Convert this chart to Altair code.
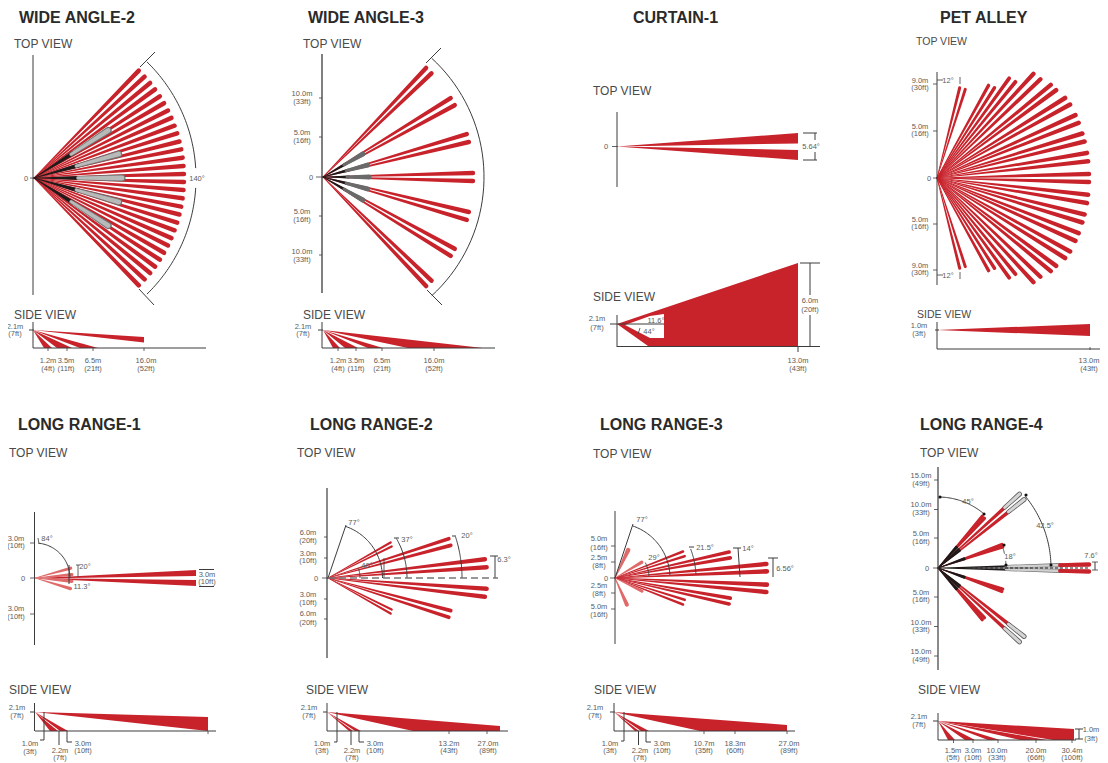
import math
import numpy as np
import pandas as pd
import altair as alt

RED = "#c8222b"
PALE = "#e06a6a"
DARK = "#1f1a1a"
INK = "#4a4a4a"
SOFT = "#5c5c5c"

# ---------- values ----------
titles = [("WIDE ANGLE-2", 19, 17), ("WIDE ANGLE-3", 308, 17), ("CURTAIN-1", 633, 17), ("PET ALLEY", 940, 17),
          ("LONG RANGE-1", 18, 424), ("LONG RANGE-2", 310, 424), ("LONG RANGE-3", 600, 424), ("LONG RANGE-4", 920, 424)]
view_labels = [("TOP VIEW", 14, 43, 12), ("SIDE VIEW", 14, 314, 12), ("TOP VIEW", 303, 43, 12), ("SIDE VIEW", 303, 314, 12),
               ("TOP VIEW", 593, 90, 12), ("SIDE VIEW", 593, 296, 12), ("TOP VIEW", 916, 41, 10.5), ("SIDE VIEW", 917, 314, 10.5),
               ("TOP VIEW", 9, 452, 12), ("SIDE VIEW", 9, 689, 12), ("TOP VIEW", 297, 452, 12), ("SIDE VIEW", 306, 689, 12),
               ("TOP VIEW", 593, 453, 12), ("SIDE VIEW", 594, 689, 12), ("TOP VIEW", 920, 452, 12), ("SIDE VIEW", 918, 689, 12)]
small_labels = [
    ("0", 26, 178), ("140°", 197, 178), ("2.1m", 15, 326), ("(7ft)", 15, 333), ("1.2m", 48, 360), ("(4ft)", 48, 368),
    ("3.5m", 66, 360), ("(11ft)", 66, 368), ("6.5m", 93, 360), ("(21ft)", 93, 368), ("16.0m", 146, 360), ("(52ft)", 146, 368),
    ("0", 311, 177), ("10.0m", 302, 93), ("(33ft)", 302, 101), ("5.0m", 302, 132), ("(16ft)", 302, 140),
    ("5.0m", 302, 211), ("(16ft)", 302, 219), ("10.0m", 302, 251), ("(33ft)", 302, 259),
    ("2.1m", 303, 326), ("(7ft)", 303, 333), ("1.2m", 338, 360), ("(4ft)", 338, 368), ("3.5m", 356, 360), ("(11ft)", 356, 368),
    ("6.5m", 382, 360), ("(21ft)", 382, 368), ("16.0m", 434, 360), ("(52ft)", 434, 368),
    ("0", 606, 146), ("5.64°", 811, 146), ("2.1m", 597, 318), ("(7ft)", 597, 327), ("11.6°", 656, 320), ("44°", 649, 331),
    ("6.0m", 810, 300), ("(20ft)", 810, 309), ("13.0m", 798, 360), ("(43ft)", 798, 368),
    ("0", 929, 178), ("9.0m", 920, 80), ("(30ft)", 920, 87), ("5.0m", 920, 126), ("(16ft)", 920, 133),
    ("5.0m", 920, 219), ("(16ft)", 920, 226), ("9.0m", 920, 265), ("(30ft)", 920, 272), ("12°", 948, 80), ("12°", 948, 275),
    ("1.0m", 919, 325), ("(3ft)", 919, 333), ("13.0m", 1089, 360), ("(43ft)", 1089, 368),
    ("0", 23, 578), ("3.0m", 16, 538), ("(10ft)", 16, 545), ("3.0m", 16, 608), ("(10ft)", 16, 616), ("84°", 47, 538),
    ("20°", 85, 566), ("11.3°", 82, 586), ("3.0m", 207, 574), ("(10ft)", 207, 581),
    ("2.1m", 17, 707), ("(7ft)", 17, 715), ("1.0m", 30, 743), ("(3ft)", 30, 751), ("2.2m", 60, 750), ("(7ft)", 60, 757),
    ("3.0m", 83, 743), ("(10ft)", 83, 750),
    ("0", 316, 578), ("6.0m", 308, 532), ("(20ft)", 308, 540), ("3.0m", 308, 553), ("(10ft)", 308, 560),
    ("3.0m", 308, 594), ("(10ft)", 308, 602), ("6.0m", 308, 613), ("(20ft)", 308, 622),
    ("77°", 354, 522), ("37°", 407, 539), ("20°", 467, 535), ("6.3°", 504, 559), ("40°", 367, 565),
    ("2.1m", 309, 707), ("(7ft)", 309, 715), ("1.0m", 322, 743), ("(3ft)", 322, 750), ("2.2m", 352, 750), ("(7ft)", 352, 757),
    ("3.0m", 375, 743), ("(10ft)", 375, 750), ("13.2m", 449, 743), ("(43ft)", 449, 750), ("27.0m", 488, 743), ("(89ft)", 488, 750),
    ("0", 606, 578), ("5.0m", 599, 538), ("(16ft)", 599, 547), ("2.5m", 599, 557), ("(8ft)", 599, 565),
    ("2.5m", 599, 585), ("(8ft)", 599, 593), ("5.0m", 599, 606), ("(16ft)", 599, 614),
    ("77°", 642, 519), ("29°", 654, 557), ("21.5°", 705, 547), ("14°", 748, 548), ("6.56°", 785, 568),
    ("2.1m", 595, 707), ("(7ft)", 595, 715), ("1.0m", 610, 743), ("(3ft)", 610, 750), ("2.2m", 640, 750), ("(7ft)", 640, 757),
    ("3.0m", 662, 743), ("(10ft)", 662, 750), ("10.7m", 704, 743), ("(35ft)", 704, 750), ("18.3m", 735, 743), ("(60ft)", 735, 750),
    ("27.0m", 789, 743), ("(89ft)", 789, 750),
    ("0", 927, 568), ("15.0m", 921, 475), ("(49ft)", 921, 483), ("10.0m", 921, 504), ("(33ft)", 921, 512),
    ("5.0m", 921, 533), ("(16ft)", 921, 541), ("5.0m", 921, 592), ("(16ft)", 921, 599), ("10.0m", 921, 622), ("(33ft)", 921, 629),
    ("15.0m", 921, 651), ("(49ft)", 921, 659), ("45°", 968, 501), ("42.5°", 1045, 525), ("18°", 1010, 556), ("7.6°", 1091, 555),
    ("2.1m", 919, 716), ("(7ft)", 919, 724), ("1.5m", 953, 750), ("(5ft)", 953, 757), ("3.0m", 973, 750), ("(10ft)", 973, 757),
    ("10.0m", 997, 750), ("(33ft)", 997, 757), ("20.0m", 1036, 750), ("(66ft)", 1036, 757), ("30.4m", 1072, 750), ("(100ft)", 1072, 757),
    ("1.0m", 1091, 729), ("(3ft)", 1091, 738),
]

wa2_apex = (34, 178)
wa2_angles = [1.5, 4.6, 7.8, 11, 14.1, 17.3, 20.4, 23.6, 26.7, 29.9, 33, 36.2, 39.3, 42.5, 45.7]
wa2_grey_angles = [0, 15.8, 32.6]
wa3_apex = (323, 177)
wa3_angles = [1.5, 13.5, 16.6, 28.6, 31.7, 43.7, 46.6]
wa3_grey_angles = [0, 15, 30]
pet_apex = (937, 178)
pet_angles = [1.5, 6.3, 9.5, 13.9, 17, 21.3, 24.4, 28.9, 32, 36.4, 39.3, 43.7, 47.2, 50.8, 54.1, 57.5, 60.9, 72.3, 75.9]
pet_radii = [152, 152, 152, 152, 152, 152, 152, 152, 151, 148, 147, 143, 142, 124, 123, 107, 106, 93, 93]
lr1_apex = (35, 578)
lr1_pale = [15.3, 5.2, -5.2, -16.7]
lr2_apex = (328, 578)
lr2_angles = [3.9, 6.8, 14.9, 18, 26.3, 29.6]
lr2_radii = [159, 158, 127, 127, 71, 72]
lr3_apex = (615, 578)
lr3_angles = [2.5, 5.3, 9.9, 12.8, 17.4, 21.3]
lr3_radii = [152, 152, 117, 117, 73, 73]
lr3_pale = [(64.8, 31), (-66, 29), (30.4, 31), (-26, 30)]
lr4_apex = (938, 568)
lr4_long = [38.5, 42.2]
lr4_short = [47, 49.4]
lr4_mid = [18, 20.2]

# side-view wedges that reach the floor: apex, floor y, [(near x, far x)...]
side_floor = [
    ((33, 330), 348, [(44, 52), (57, 72), (80, 98)]),
    ((323, 330), 348, [(333, 340), (345, 358), (368, 383), (408, 483)]),
    ((35, 712), 731, [(50, 58), (60, 68)]),
    ((327, 712), 731, [(349, 353), (355, 361)]),
    ((614, 712), 731, [(635, 639), (641, 649)]),
    ((938, 721), 740, [(948, 955), (965, 975), (988, 1000), (1020, 1047)]),
]
# side-view wedges with a flat far end: apex, far x, upper y, lower y
side_flat = [((33, 330), 144, 337, 342.5), ((937, 330), 1090, 324, 336), ((35, 712), 208, 717, 731),
             ((617, 146.5), 798, 133, 143.5), ((617, 146.5), 798, 150, 160)]
# wedges cut by the floor: apex, x where the lower edge lands, far x, far top y, floor y
side_cut = [((327, 712), 413, 500, 726, 731), ((614, 712), 700, 787, 725, 731), ((938, 721), 1053, 1074, 729, 740)]

# plain line work: (x1, y1, x2, y2, width)
line_work = [
    (33, 55, 33, 295, 1), (30, 178, 34, 178, 0.8), (140, 67, 155, 52, 1), (139, 289, 154, 305, 1),
    (33, 322, 33, 348, 1), (33, 348, 206, 348, 1), (29, 330, 34, 330, 1), (48, 348, 48, 351, .8), (67, 348, 67, 351, .8), (93, 348, 93, 351, .8), (144, 348, 144, 351, .8),
    (322, 54, 322, 293, 1.3), (319, 98, 322, 98, .8), (319, 137, 322, 137, .8), (319, 216, 322, 216, .8), (319, 255, 322, 255, .8), (316, 177, 323, 177, .8),
    (426, 63, 441, 48, 1), (427, 290, 442, 305, 1), (322, 322, 322, 348, 1), (322, 348, 495, 348, 1), (318, 330, 323, 330, 1),
    (338, 348, 338, 351, .8), (356, 348, 356, 351, .8), (382, 348, 382, 351, .8), (434, 348, 434, 351, .8),
    (617, 112, 617, 187, 1), (612, 146.5, 618, 146.5, .8), (803, 133, 817, 133, 1), (815, 133, 815, 140, 1), (803, 160, 817, 160, 1), (815, 152, 815, 160, 1),
    (617, 315, 617, 347, 1), (617, 346.5, 820, 346.5, 1), (610, 324, 664, 324, 1), (640, 328, 638, 334, .8), (800, 263, 820, 263, 1),
    (810, 263, 810, 295, 1), (810, 315, 810, 346, 1), (798, 346, 798, 352, 1),
    (937, 72, 937, 285, 1), (933, 84, 937, 84, .8), (933, 131, 937, 131, .8), (933, 224, 937, 224, .8), (933, 270, 937, 270, .8), (933, 178, 937, 178, .8),
    (937, 80, 943, 80, .8), (960, 77, 960, 84, .8), (937, 275, 943, 275, .8), (960, 272, 960, 279, .8),
    (937, 322, 937, 349, 1), (937, 349, 1100, 349, 1), (1090, 347, 1090, 350, .8), (935, 330, 939, 330, 1),
    (34.5, 512, 34.5, 645, 1), (30, 543, 34.5, 543, .8), (30, 614, 34.5, 614, .8), (30, 578, 35, 578, .8), (38, 538, 39, 544, .8),
    (69, 565, 69, 584, 1), (76, 565, 80, 565, .8), (78, 565, 78, 577, .8), (199, 569.5, 214, 569.5, 1), (199, 586.5, 214, 586.5, 1),
    (34.5, 703, 34.5, 731, 1), (35, 731, 216, 731, 1), (30, 712, 35, 712, 1), (44, 712, 44, 740, 1), (44, 740, 40, 740, 1), (59, 731, 59, 745, 1),
    (67, 731, 67, 742, 1), (67, 742, 72, 742, 1), (208, 731, 208, 734, .8),
    (327, 488, 327, 658, 1.2), (324, 537, 327, 537, .8), (324, 558, 327, 558, .8), (324, 599, 327, 599, .8), (324, 619, 327, 619, .8), (322, 578, 328, 578, .8),
    (328, 578, 346, 525, 1), (384, 558, 384, 578, .8), (394, 538, 399, 538, 1), (452, 536, 456, 536, 1),
    (495, 556, 495, 578, 1), (490, 556, 498, 556, 1),
    (327, 703, 327, 731, 1), (327, 731, 508, 731, 1), (323, 712, 327, 712, 1), (337, 712, 337, 742, 1), (337, 742, 334, 742, 1), (351, 731, 351, 745, 1),
    (359, 731, 359, 742, 1), (359, 742, 364, 742, 1), (449, 731, 449, 734, .8), (487, 731, 487, 734, .8),
    (615, 511, 615, 644, 1), (611, 546, 615, 546, .8), (611, 562, 615, 562, .8), (611, 593, 615, 593, .8), (611, 609, 615, 609, .8), (610, 578, 615, 578, .8),
    (615, 578, 633, 524, 1), (689, 547, 694, 547, 1), (733, 548, 741, 548, 1), (738, 548, 740, 577, 1), (773, 558, 773, 577, 1), (768, 558, 778, 558, 1),
    (614, 703, 614, 731, 1), (614, 731, 795, 731, 1), (610, 712, 615, 712, 1), (624, 712, 624, 741, 1), (624, 741, 621, 741, 1), (638.5, 731, 638.5, 745, 1),
    (646, 731, 646, 742, 1), (646, 742, 651, 742, 1), (704, 731, 704, 734, .8), (735, 731, 735, 734, .8), (787, 731, 787, 734, .8),
    (938, 467, 938, 670, 1.2), (934, 480, 938, 480, .8), (934, 509.5, 938, 509.5, .8), (934, 538, 938, 538, .8), (934, 597, 938, 597, .8),
    (934, 626.5, 938, 626.5, .8), (934, 656, 938, 656, .8), (933, 568, 938, 568, .8), (1095, 562, 1095, 570, 1), (1092, 562, 1098, 562, .8), (1092, 570, 1098, 570, .8),
    (938, 713, 938, 740, 1), (938, 740, 1076, 740, 1), (933, 721, 938, 721, 1), (953.5, 740, 953.5, 743, .8), (973, 740, 973, 743, .8), (998, 740, 998, 743, .8),
    (1036, 740, 1036, 743, .8), (1072, 740, 1072, 743, .8), (1079, 729, 1079, 739, 1), (1075, 729, 1083, 729, 1), (1075, 739, 1083, 739, 1),
]
# arcs around an apex: apex, radius, from angle, to angle
arc_work = [
    (wa2_apex, 162, 45.8, 3.5), (wa2_apex, 162, -3.5, -45.8), (wa3_apex, 161, 47.5, -47.5),
    (lr1_apex, 35, 84, 0), (lr2_apex, 54.5, 71, 0), (lr2_apex, 79, 30, 0), (lr2_apex, 134, 18, 0), (lr2_apex, 32, 17, 0),
    (lr3_apex, 55, 71, 3), (lr3_apex, 34, 27, 3), (lr3_apex, 81, 21, 3), (lr4_apex, 71, 88, 50), (lr4_apex, 113, 39.3, 1), (lr4_apex, 68, 17, 12), (lr4_apex, 68, 6, 1),
]
arrow_points = [(940, 497), (984, 514), (1026, 495), (1051, 565), (1004, 545), (1006, 565)]
dash_grey = [(328, 578, 498, 578)]
dash_dark = [(965, 568, 1089, 568)]

# ---------- assembling ----------
beams, areas, lines = [], [], []
gid = [0]

def new_id():
    gid[0] += 1
    return gid[0]

def beam(apex, ang, r0, r1, k, color):
    g = new_id()
    a = math.radians(ang)
    for i, r in enumerate((r0, r1)):
        beams.append(dict(g=g, i=i, x=apex[0] + r * math.cos(a), y=apex[1] - r * math.sin(a), s=0.7 + r * k * 0.85, c=color))

def area(points, color):
    g = new_id()
    for x, y, yb in points:
        areas.append(dict(g=g, x=x, y=y, yb=yb, c=color))

def seg(pts, w, color):
    g = new_id()
    for i, (x, y) in enumerate(pts):
        lines.append(dict(g=g, i=i, x=x, y=y, w=w, c=color))

# wide angle 2
for a in wa2_angles:
    beam(wa2_apex, a, 0, 150, .03, RED)
    beam(wa2_apex, -a, 0, 150, .03, RED)
for a in wa2_grey_angles:
    for s in {a, -a}:
        beam(wa2_apex, s, 0, 46, .09, DARK)
        beam(wa2_apex, s, 44, 88, .085, "#6f7371")
        beam(wa2_apex, s, 44, 88, .055, "#b7bab8")
# wide angle 3
for a in wa3_angles:
    beam(wa3_apex, a, 0, 150, .03, RED)
    beam(wa3_apex, -a, 0, 150, .03, RED)
for a in wa3_grey_angles:
    for s in {a, -a}:
        beam(wa3_apex, s, 0, 26, .1, DARK)
        beam(wa3_apex, s, 24, 46, .11, "#6a6a6a")
# pet alley
for a, r in zip(pet_angles, pet_radii):
    beam(pet_apex, a, 0, r, .03, RED)
    beam(pet_apex, -a, 0, r, .03, RED)
# long range 1
for a in lr1_pale:
    beam(lr1_apex, a, 0, 37, .08, PALE)
area([(35, 578, 578), (70, 576.5, 578), (196, 570, 576)], RED)
area([(35, 578, 578), (70, 578.6, 580), (196, 580, 586)], RED)
# long range 2 and 3
for a, r in zip(lr2_angles, lr2_radii):
    beam(lr2_apex, a, 0, r, .028, RED)
    beam(lr2_apex, -a, 0, r, .028, RED)
for a, r in zip(lr3_angles, lr3_radii):
    beam(lr3_apex, a, 0, r, .03, RED)
    beam(lr3_apex, -a, 0, r, .03, RED)
for a, r in lr3_pale:
    beam(lr3_apex, a, 0, r, .14 if abs(a) > 60 else .1, PALE)
# long range 4
for a in lr4_long:
    for s in (a, -a):
        beam(lr4_apex, s, 0, 92, .038, RED)
        beam(lr4_apex, s, 90, 110, .045, "#555555")
        beam(lr4_apex, s, 90, 110, .028, "#d5d5d5")
for a in lr4_short + lr4_mid:
    beam(lr4_apex, a, 0, 68, .045, RED)
    beam(lr4_apex, -a, 0, 68, .045, RED)
for a in lr4_long + lr4_short + lr4_mid:
    beam(lr4_apex, a, 0, 28, .06, DARK)
    beam(lr4_apex, -a, 0, 28, .06, DARK)
for s in (1.33, -1.33):
    beam(lr4_apex, s, 0, 70, .0265, DARK)
    beam(lr4_apex, s, 68, 124, .035, "#666666")
    beam(lr4_apex, s, 68, 124, .02, "#d0d0d0")
    beam(lr4_apex, s, 122, 151, .03, RED)

# side views
for apex, floor, spans in side_floor:
    for near, far in spans:
        top = apex[1] + (floor - apex[1]) * (near - apex[0]) / (far - apex[0])
        area([(apex[0], apex[1], apex[1]), (near, top, floor), (far, floor, floor)], RED)
for apex, far, up, low in side_flat:
    area([(apex[0], apex[1], apex[1]), (far, up, low)], RED)
for apex, land, far, top, floor in side_cut:
    mid = apex[1] + (top - apex[1]) * (land - apex[0]) / (far - apex[0])
    area([(apex[0], apex[1], apex[1]), (land, mid, floor), (far, top, floor)], RED)
# curtain side view and its white notch
area([(617, 324, 324), (648, 313.5, 346), (798, 263, 346)], RED)
area([(625, 325, 325), (650, 316, 338), (664, 314, 338)], "#ffffff")

for x1, y1, x2, y2, w in line_work:
    seg([(x1, y1), (x2, y2)], w, "#3c3c3c")
for apex, r, a0, a1 in arc_work:
    t = np.radians(np.linspace(a0, a1, 40))
    seg(list(zip(apex[0] + r * np.cos(t), apex[1] - r * np.sin(t))), 1, "#3c3c3c")

X = alt.X("x:Q", scale=alt.Scale(domain=[8, 1100], nice=False, zero=False), axis=None)
Y = alt.Y("y:Q", scale=alt.Scale(domain=[763, 8], nice=False, zero=False), axis=None)
C = alt.Color("c:N", scale=None, legend=None)

area_layer = alt.Chart(pd.DataFrame(areas)).mark_area(interpolate="linear", orient="vertical").encode(
    x=X, y=Y, y2=alt.Y2("yb"), color=C, detail="g:N")
trail_layer = alt.Chart(pd.DataFrame(beams)).mark_trail().encode(
    x=X, y=Y, size=alt.Size("s:Q", scale=None, legend=None), color=C, detail="g:N", order="i:Q")
line_layer = alt.Chart(pd.DataFrame(lines)).mark_line(strokeCap="butt").encode(
    x=X, y=Y, size=alt.Size("w:Q", scale=None, legend=None), color=C, detail="g:N", order="i:Q")

def dash_df(rows):
    out = []
    for n, (x1, y1, x2, y2) in enumerate(rows):
        out += [dict(g=n, i=0, x=x1, y=y1), dict(g=n, i=1, x=x2, y=y2)]
    return pd.DataFrame(out)

dash1 = alt.Chart(dash_df(dash_grey)).mark_line(color="#777777", strokeWidth=1.3, strokeDash=[7, 4]).encode(x=X, y=Y, detail="g:N", order="i:Q")
dash2 = alt.Chart(dash_df(dash_dark)).mark_line(color="#222222", strokeWidth=1, strokeDash=[3, 2]).encode(x=X, y=Y, detail="g:N", order="i:Q")
arrows = alt.Chart(pd.DataFrame(arrow_points, columns=["x", "y"])).mark_point(filled=True, color="#111111", size=10, opacity=1).encode(x=X, y=Y)

title_layer = alt.Chart(pd.DataFrame(titles, columns=["t", "x", "y"])).mark_text(
    align="left", baseline="middle", dy=1, font="Liberation Sans", fontWeight="bold", fontSize=16, color="#2a2a2a"
).encode(x=X, y=Y, text="t:N")
view_layer = alt.Chart(pd.DataFrame(view_labels, columns=["t", "x", "y", "z"])).mark_text(
    align="left", baseline="middle", dy=1, font="Liberation Sans", color=INK
).encode(x=X, y=Y, text="t:N", size=alt.Size("z:Q", scale=None, legend=None))
small_layer = alt.Chart(pd.DataFrame(small_labels, columns=["t", "x", "y"])).mark_text(
    align="center", baseline="middle", dy=1, font="Liberation Sans", fontSize=7.5, color=SOFT
).encode(x=X, y=Y, text="t:N")

chart = alt.layer(
    area_layer, trail_layer, line_layer, dash1, dash2, arrows, title_layer, view_layer, small_layer
).properties(width=1092, height=755, padding=0, autosize=alt.AutoSizeParams(type="none"), background="#ffffff").configure_view(strokeWidth=0)

chart.save("out.html", embed_options={"renderer": "svg", "actions": False})
